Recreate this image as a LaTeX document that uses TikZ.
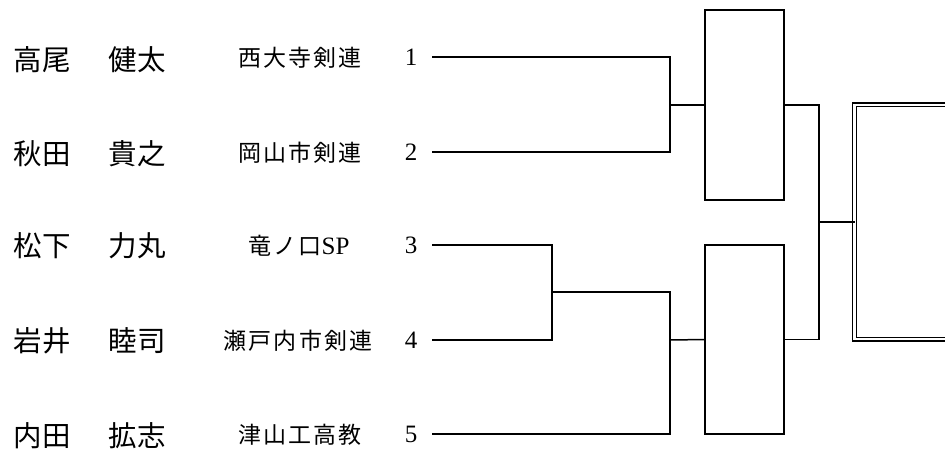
\documentclass[tikz,border=0pt]{standalone}
\usepackage{fontspec}
\newfontfamily\cjk{Noto Sans CJK JP}
\newfontfamily\cjkclub[LetterSpace=9]{Noto Sans CJK JP}
\newfontfamily\serifnum{Liberation Serif}
\begin{document}
\begin{tikzpicture}[x=1pt,y=-1pt,
  namefont/.style={font=\cjk\fontsize{28.5}{30}\selectfont, inner sep=0pt, anchor=center},
  clubfont/.style={font=\cjkclub\fontsize{23}{25}\selectfont, inner sep=0pt, anchor=center},
  numfont/.style={font=\serifnum\fontsize{25}{26}\selectfont, inner sep=0pt, anchor=center},
  bline/.style={line width=1.5pt, line cap=rect},
  matchbox/.style={draw, line width=1.5pt, minimum width=79pt, inner sep=0pt},
  finalbox/.style={draw, double, line width=1.3pt, double distance=2.4pt, inner sep=0pt}
]
\useasboundingbox (0,0) rectangle (945,456);
\clip (0,0) rectangle (945,456);
\fill[white] (0,0) rectangle (945,456);

% names
\node[namefont] (sa) at (42,60) {高尾};
\node[namefont] (ga) at (137,60) {健太};
\node[namefont] (sb) at (42,154) {秋田};
\node[namefont] (gb) at (137,154) {貴之};
\node[namefont] (sc) at (42,246) {松下};
\node[namefont] (gc) at (137,246) {力丸};
\node[namefont] (sd) at (42,341) {岩井};
\node[namefont] (gd) at (137,341) {睦司};
\node[namefont] (se) at (42,436) {内田};
\node[namefont] (ge) at (137,436) {拡志};

% clubs
\node[clubfont] (ca) at (300,58) {西大寺剣連};
\node[clubfont] (cb) at (300,153) {岡山市剣連};
\node[clubfont] (cc) at (299,246) {竜ノ口{\serifnum\fontsize{25}{26}\selectfont SP}};
\node[clubfont] (cd) at (298,341) {瀬戸内市剣連};
\node[clubfont] (ce) at (300,435) {津山工高教};

% seed numbers
\node[numfont] (n1) at (411,57) {1};
\node[numfont] (n2) at (411,152) {2};
\node[numfont] (n3) at (411,245) {3};
\node[numfont] (n4) at (411,340) {4};
\node[numfont] (n5) at (411,434) {5};

% line starts and joints
\coordinate (s1) at (433,57);
\coordinate (s2) at (433,152);
\coordinate (s3) at (433,245);
\coordinate (s4) at (433,340);
\coordinate (s5) at (433,434);
\coordinate (j12) at (670,105);
\coordinate (j34) at (552,292);
\coordinate (j345) at (670,340);
\coordinate (jf) at (819,222);

% match boxes
\node[matchbox, minimum height=190pt] (box1) at (744.5,105) {};
\node[matchbox, minimum height=189pt] (box2) at (744.5,339.5) {};
\node[finalbox, minimum width=145.5pt, minimum height=234.5pt] (final) at (927.25,222) {};

% bracket lines
\draw[bline] (s1) -| (j12) |- (s2);
\draw[bline] (j12) -- (box1.west);
\draw[bline] (s3) -| (j34) |- (s4);
\draw[bline] (j34) -| (j345) |- (s5);
\draw[bline] (j345) -- (box2.west);
\draw[bline] (box1.east) -| (jf) |- (box2.east);
\draw[bline] (jf) -- (final.west);
\end{tikzpicture}
\end{document}
